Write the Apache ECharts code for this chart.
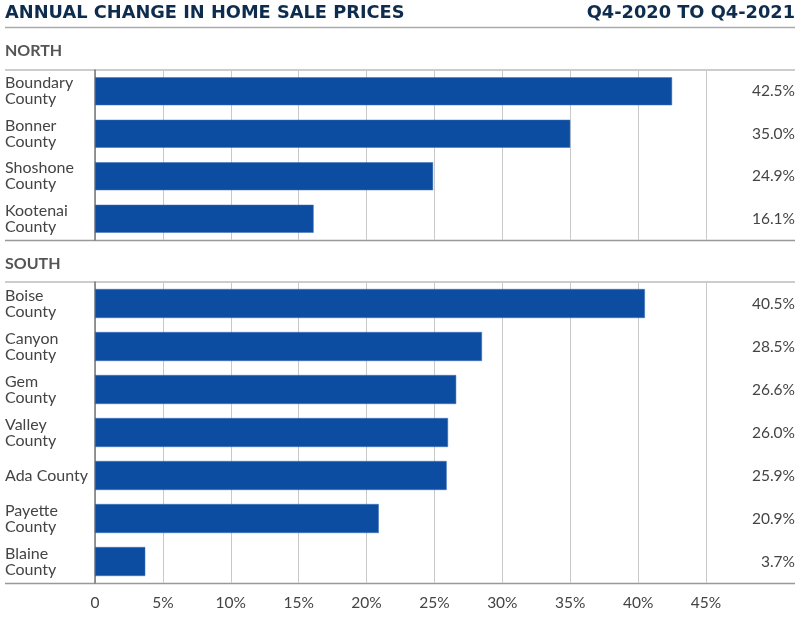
<!DOCTYPE html>
<html><head><meta charset="utf-8">
<script src="https://cdn.jsdelivr.net/npm/echarts@6/dist/echarts.min.js"></script>
<style>html,body{margin:0;padding:0;background:#fff}#c{width:800px;height:621px}</style>
</head><body><div id="c"></div>
<script>
const northCategories = ['Boundary\nCounty','Bonner\nCounty','Shoshone\nCounty','Kootenai\nCounty'];
const northValues = [42.5, 35.0, 24.9, 16.1];
const southCategories = ['Boise\nCounty','Canyon\nCounty','Gem\nCounty','Valley\nCounty','Ada County','Payette\nCounty','Blaine\nCounty'];
const southValues = [40.5, 28.5, 26.6, 26.0, 25.9, 20.9, 3.7];
const xTicks = [0,5,10,15,20,25,30,35,40,45];

const chart = echarts.init(document.getElementById('c'), null, {renderer:'canvas'});
const FONT = 'Lato';
const TXT = '#444';
const BAR = '#0c4da2';
const fmt = v => v.toFixed(1) + '%';
const L = 95, R = 800-706;

function xAxis(gi, showLabels){
  return {gridIndex:gi, type:'value', min:0, max:xTicks[xTicks.length-1], interval:5,
    axisLine:{show:false}, axisTick:{show:false},
    splitLine:{show:true, lineStyle:{color:'#c9c9c9', width:1}},
    axisLabel:{show:showLabels, color:TXT, fontFamily:FONT, fontSize:15.5, margin:12,
      formatter: v => v===0 ? '0' : v+'%'}};
}
function yLeft(gi, cats){
  return {gridIndex:gi, type:'category', data:cats, inverse:true,
    axisLine:{show:true, lineStyle:{color:'#777', width:1.5}}, axisTick:{show:false},
    axisLabel:{color:TXT, fontFamily:FONT, fontSize:16, lineHeight:16, align:'left', margin:90}};
}
function yRight(gi, vals){
  return {gridIndex:gi, type:'category', data:vals.map(fmt), inverse:true, position:'right',
    axisLine:{show:false}, axisTick:{show:false},
    axisLabel:{color:TXT, fontFamily:FONT, fontSize:15.5, align:'right', margin:89}};
}

chart.setOption({
  animation:false,
  grid:[
    {left:L, right:R, top:70, height:170},
    {left:L, right:R, top:282, height:301}
  ],
  xAxis:[xAxis(0,false), xAxis(1,true)],
  yAxis:[yLeft(0,northCategories), yRight(0,northValues), yLeft(1,southCategories), yRight(1,southValues)],
  series:[
    {type:'bar', xAxisIndex:0, yAxisIndex:0, data:northValues, barWidth:28,
      itemStyle:{color:BAR, borderColor:'#3a70b8', borderWidth:0.5}},
    {type:'bar', xAxisIndex:1, yAxisIndex:2, data:southValues, barWidth:29,
      itemStyle:{color:BAR, borderColor:'#3a70b8', borderWidth:0.5}}
  ],
  graphic:[
    {type:'text', left:5, top:4, style:{text:'ANNUAL CHANGE IN HOME SALE PRICES', fill:'#0e2d4e', font:'bold 17.8px "DejaVu Sans"'}},
    {type:'text', right:5, top:4, style:{text:'Q4-2020 TO Q4-2021', fill:'#0e2d4e', font:'bold 17.8px "DejaVu Sans"'}},
    {type:'line', shape:{x1:5,y1:27.5,x2:795,y2:27.5}, style:{stroke:'#aaa', lineWidth:1.5}},
    {type:'text', left:5, top:43, style:{text:'NORTH', fill:'#555', font:'bold 16px Lato'}},
    {type:'text', left:5, top:256, style:{text:'SOUTH', fill:'#555', font:'bold 16px Lato'}},
    {type:'line', shape:{x1:5,y1:70,x2:795,y2:70}, style:{stroke:'#999', lineWidth:1}},
    {type:'line', shape:{x1:5,y1:240.5,x2:795,y2:240.5}, style:{stroke:'#999', lineWidth:1.5}},
    {type:'line', shape:{x1:5,y1:282,x2:795,y2:282}, style:{stroke:'#999', lineWidth:1}},
    {type:'line', shape:{x1:5,y1:583.5,x2:795,y2:583.5}, style:{stroke:'#999', lineWidth:1.5}}
  ]
});
</script></body></html>
